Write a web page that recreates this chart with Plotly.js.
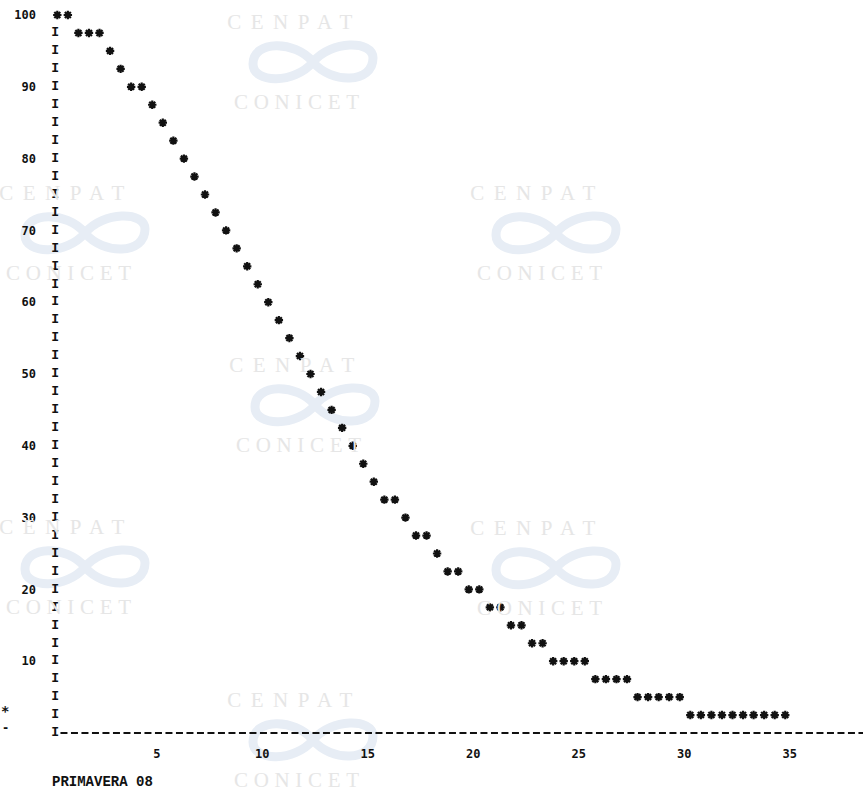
<!DOCTYPE html>
<html>
<head>
<meta charset="utf-8">
<script src="https://cdn.plot.ly/plotly-3.0.1.min.js"></script>
<style>
  html, body { margin: 0; padding: 0; background: #ffffff; }
  #chart { width: 863px; height: 800px; }
</style>
</head>
<body>
<div id="chart"></div>
<script>
// ---- data (x step 0.5, y rows of 2.5) ----
const xValues = [0, 0.5, 1, 1.5, 2, 2.5, 3, 3.5, 4, 4.5,
                 5, 5.5, 6, 6.5, 7, 7.5, 8, 8.5, 9, 9.5,
                 10, 10.5, 11, 11.5, 12, 12.5, 13, 13.5, 14, 14.5,
                 15, 15.5, 16, 16.5, 17, 17.5, 18, 18.5, 19, 19.5,
                 20, 20.5, 21, 21.5, 22, 22.5, 23, 23.5, 24, 24.5,
                 25, 25.5, 26, 26.5, 27, 27.5, 28, 28.5, 29, 29.5,
                 30, 30.5, 31, 31.5, 32, 32.5, 33, 33.5, 34, 34.5];
const yValues = [100, 100, 97.5, 97.5, 97.5, 95, 92.5, 90, 90, 87.5,
                 85, 82.5, 80, 77.5, 75, 72.5, 70, 67.5, 65, 62.5,
                 60, 57.5, 55, 52.5, 50, 47.5, 45, 42.5, 40, 37.5,
                 35, 32.5, 32.5, 30, 27.5, 27.5, 25, 22.5, 22.5, 20,
                 20, 17.5, 17.5, 15, 15, 12.5, 12.5, 10, 10, 10,
                 10, 7.5, 7.5, 7.5, 7.5, 5, 5, 5, 5, 5,
                 2.5, 2.5, 2.5, 2.5, 2.5, 2.5, 2.5, 2.5, 2.5, 2.5];
const xTickValues = [5, 10, 15, 20, 25, 30, 35];
const xTickLabels = ["5", "10", "15", "20", "25", "30", "35"];
const yTickValues = [10, 20, 30, 40, 50, 60, 70, 80, 90, 100];
const yTickLabels = ["10", "20", "30", "40", "50", "60", "70", "80", "90", "100"];
// rows of the printed "I" axis
const axisRows = [0, 2.5, 5, 7.5, 10, 12.5, 15, 17.5, 20, 22.5,
                  25, 27.5, 30, 32.5, 35, 37.5, 40, 42.5, 45, 47.5,
                  50, 52.5, 55, 57.5, 60, 62.5, 65, 67.5, 70, 72.5,
                  75, 77.5, 80, 82.5, 85, 87.5, 90, 92.5, 95, 97.5];
const caption = "PRIMAVERA 08";
const wmTop = "CENPAT";
const wmBottom = "CONICET";

// ---- layout geometry (pixels) ----
const L = 42, T = 5, W = 821, H = 735;
const px = v => (v - L) / W;
const py = v => (T + H - v) / H;

const monoBold = {family: "DejaVu Sans Mono, monospace", size: 12, color: "#111111", weight: "bold"};

// watermark blocks: centre x, y of top word
const marks = [[313, 22], [85, 193], [556, 193], [315, 365], [85, 527], [556, 528], [313, 700]];
const annotations = [];
const shapes = [];
const wmIdx = [];
marks.forEach(([cx, cy]) => {
  wmIdx.push(annotations.length);
  annotations.push({xref: "paper", yref: "paper", x: px(cx - 63), y: py(cy), xanchor: "left", yanchor: "middle",
    text: wmTop, showarrow: false, borderpad: 0,
    font: {family: "Liberation Serif, serif", size: 21, color: "#e6e6e6"}});
  wmIdx.push(annotations.length);
  annotations.push({xref: "paper", yref: "paper", x: px(cx - 63), y: py(cy + 80), xanchor: "left", yanchor: "middle",
    text: wmBottom, showarrow: false, borderpad: 0,
    font: {family: "Liberation Serif, serif", size: 21, color: "#e6e6e6"}});
  // logo: sun + infinity ribbon
  const lx = cx, ly = cy + 40;
  const P = (a, b) => px(a).toFixed(5) + "," + py(b).toFixed(5);
  const sr = 16, sx = lx + 30, sy = ly + 6;
  shapes.push({type: "path", xref: "paper", yref: "paper", layer: "below",
    path: "M " + P(sx - sr, sy) + " A " + (sr / W).toFixed(5) + "," + (sr / H).toFixed(5) + " 0 0 1 " + P(sx + sr, sy) + " Z",
    fillcolor: "#fcf4da", line: {width: 0}});
  const a = 60, h = 22;
  const path = "M " + P(lx, ly) +
    " C " + P(lx + 18, ly - h) + " " + P(lx + a, ly - h) + " " + P(lx + a, ly - 4) +
    " C " + P(lx + a, ly + h) + " " + P(lx + 18, ly + h) + " " + P(lx, ly) +
    " C " + P(lx - 18, ly - h) + " " + P(lx - a, ly - h) + " " + P(lx - a, ly + 2) +
    " C " + P(lx - a, ly + h) + " " + P(lx - 18, ly + h) + " " + P(lx, ly) + " Z";
  shapes.push({type: "path", xref: "paper", yref: "paper", layer: "below", path: path,
    line: {color: "#e7edf5", width: 9}});
});

// printed baseline of dashes
shapes.push({type: "line", xref: "x", yref: "y", x0: 0.15, x1: 38.3, y0: 0, y1: 0,
  line: {color: "#111111", width: 2, dash: "7px,3.5px"}});

// stray printer marks on the left margin and the caption
annotations.push({xref: "paper", yref: "paper", x: px(5), y: py(711), text: "*", showarrow: false,
  xanchor: "center", yanchor: "middle", font: {family: "DejaVu Sans Mono, monospace", size: 14, color: "#111", weight: "bold"}});
annotations.push({xref: "paper", yref: "paper", x: px(5), y: py(728), text: "-", showarrow: false,
  xanchor: "center", yanchor: "middle", font: {family: "DejaVu Sans Mono, monospace", size: 12, color: "#111", weight: "bold"}});
annotations.push({xref: "paper", yref: "paper", x: px(50), y: py(782), text: caption, showarrow: false,
  xanchor: "left", yanchor: "middle", font: {family: "Liberation Mono, Courier New, monospace", size: 14, color: "#111", weight: "bold"}});

const traces = [
  {type: "scatter", mode: "text", x: axisRows.map(() => -0.1), y: axisRows, text: axisRows.map(() => "I"),
   textposition: "middle center", hoverinfo: "skip", showlegend: false,
   textfont: {family: "Liberation Mono, Courier New, monospace", size: 13, color: "#111111", weight: "bold"}},
  {type: "scatter", mode: "markers", x: xValues, y: yValues, hoverinfo: "skip", showlegend: false,
   marker: {symbol: "asterisk-open", size: 7, color: "#111111", line: {color: "#111111", width: 2.2}}}
];

const layout = {
  width: 863, height: 800,
  margin: {l: L, r: 863 - L - W, t: T, b: 800 - T - H, pad: 0},
  paper_bgcolor: "#ffffff", plot_bgcolor: "rgba(0,0,0,0)",
  showlegend: false,
  xaxis: {range: [-0.725, 38.185], showgrid: false, zeroline: false, showline: false, ticks: "",
    tickmode: "array", tickvals: xTickValues, ticktext: xTickLabels, tickfont: monoBold,
    ticklabelshift: -6, ticklabelstandoff: 5, fixedrange: true},
  yaxis: {range: [-0.975, 101.393], showgrid: false, zeroline: false, showline: false, ticks: "",
    tickmode: "array", tickvals: yTickValues, ticktext: yTickLabels, tickfont: monoBold,
    ticklabelstandoff: 5, fixedrange: true},
  annotations: annotations,
  shapes: shapes
};

Plotly.newPlot("chart", traces, layout, {displayModeBar: false, staticPlot: true}).then(() => {
  wmIdx.forEach(i => {
    const t = document.querySelector('.annotation[data-index="' + i + '"] text');
    if (t) { t.setAttribute("textLength", "125"); t.setAttribute("lengthAdjust", "spacing"); }
  });
});
</script>
</body>
</html>
